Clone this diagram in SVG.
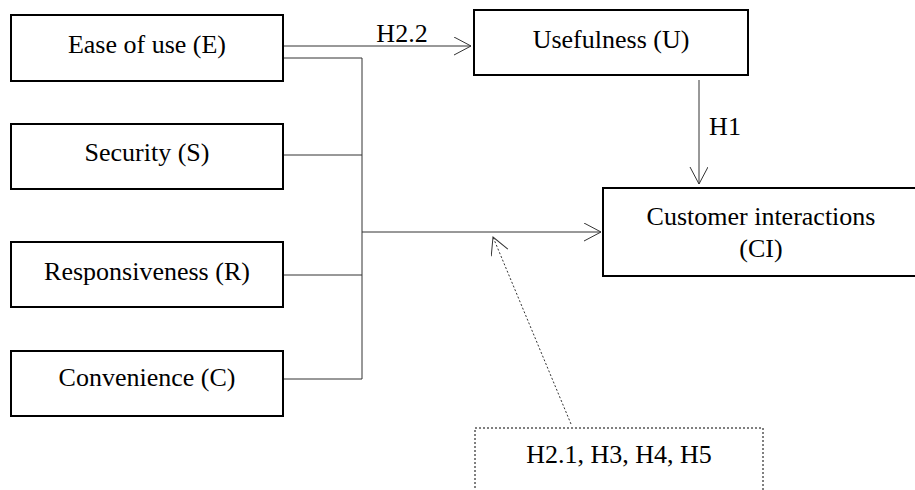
<svg xmlns="http://www.w3.org/2000/svg" width="915" height="490" viewBox="0 0 915 490">
<defs>
<style>
.box{fill:#fff;stroke:#000;stroke-width:2}
.dbox{fill:#fff;stroke:#000;stroke-width:1;stroke-dasharray:2,2}
text{font-family:'Liberation Serif','Times New Roman','DejaVu Serif',serif;font-size:26px;fill:#000;text-anchor:middle}
.c{fill:none;stroke:#333;stroke-width:1}
.d{fill:none;stroke:#333;stroke-width:1;stroke-dasharray:2,2}
</style>
<marker id="ah" markerUnits="userSpaceOnUse" markerWidth="22" markerHeight="22" refX="18" refY="9" orient="auto">
<path d="M1,0 L18,9 L1,18" fill="none" stroke="#333" stroke-width="1"/>
</marker>
</defs>
<g id="connectors">
<line class="c" x1="283" y1="46" x2="471" y2="46" marker-end="url(#ah)"/>
<polyline class="c" points="283,58 362,58 362,379 283,379"/>
<line class="c" x1="283" y1="155" x2="362" y2="155"/>
<line class="c" x1="283" y1="275" x2="362" y2="275"/>
<line class="c" x1="362" y1="232" x2="601" y2="232" marker-end="url(#ah)"/>
<line class="c" x1="699" y1="80" x2="699" y2="184" marker-end="url(#ah)"/>
<line class="d" x1="571" y1="424" x2="493" y2="237" marker-end="url(#ah)"/>
<text x="402" y="42" font-family="Liberation Serif, serif">H2.2</text>
<text x="725" y="135" font-family="Liberation Serif, serif">H1</text>
</g>
<g id="E"><rect class="box" x="11" y="15" width="272" height="66"/><text x="147" y="53" font-family="Liberation Serif, serif">Ease of use (E)</text></g>
<g id="S"><rect class="box" x="11" y="124" width="272" height="65"/><text x="147" y="161" font-family="Liberation Serif, serif">Security (S)</text></g>
<g id="R"><rect class="box" x="11" y="242" width="272" height="65"/><text x="147" y="280" font-family="Liberation Serif, serif">Responsiveness (R)</text></g>
<g id="C"><rect class="box" x="11" y="351" width="272" height="65"/><text x="147" y="386" font-family="Liberation Serif, serif">Convenience (C)</text></g>
<g id="U"><rect class="box" x="474" y="10" width="274" height="65"/><text x="611" y="48" font-family="Liberation Serif, serif">Usefulness (U)</text></g>
<g id="CI"><rect class="box" x="603" y="188" width="316" height="88"/><text x="761" y="225" font-family="Liberation Serif, serif">Customer interactions</text><text x="761" y="257" font-family="Liberation Serif, serif">(CI)</text></g>
<g id="H"><rect class="dbox" x="475" y="428" width="288" height="70"/><text x="619" y="463" font-family="Liberation Serif, serif">H2.1, H3, H4, H5</text></g>
</svg>
